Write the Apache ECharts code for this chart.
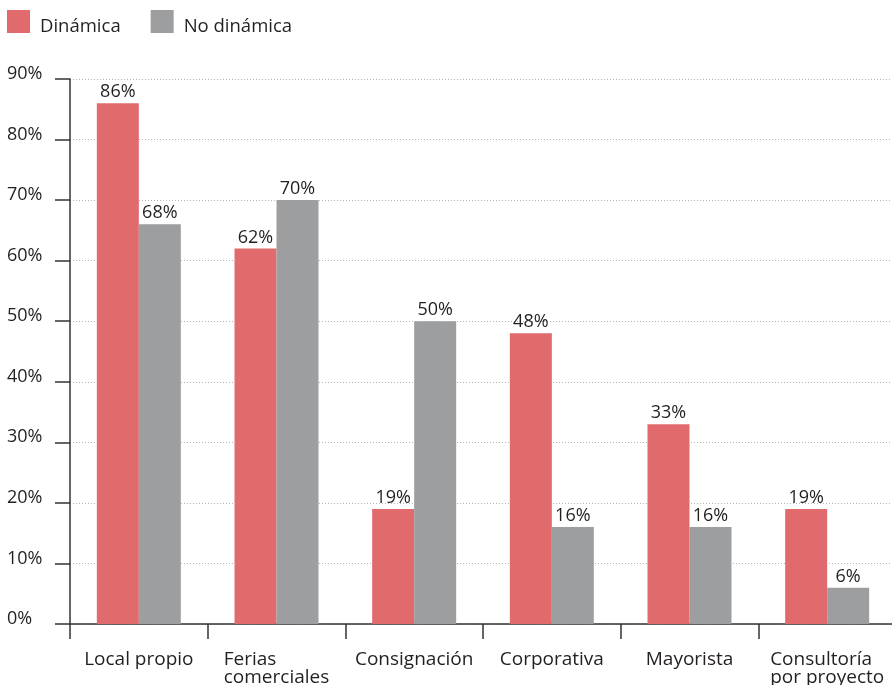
<!DOCTYPE html>
<html>
<head>
<meta charset="utf-8">
<script src="https://cdn.jsdelivr.net/npm/echarts@6/dist/echarts.min.js"></script>
<style>html,body{margin:0;padding:0;background:#fff;}#c{width:892px;height:685px;}</style>
</head>
<body>
<div id="c"></div>
<script>
var categories = ['Local propio', 'Ferias\ncomerciales', 'Consignación', 'Corporativa', 'Mayorista', 'Consultoría\npor proyecto'];
var seriesNames = ['Dinámica', 'No dinámica'];
var dinamica = [86, 62, 19, 48, 33, 19];
var noDinamica = [66, 70, 50, 16, 16, 6];
var dinamicaLabels = ['86%', '62%', '19%', '48%', '33%', '19%'];
var noDinamicaLabels = ['68%', '70%', '50%', '16%', '16%', '6%'];
var yTicks = [0, 10, 20, 30, 40, 50, 60, 70, 80, 90];

var FONT = 'Open Sans';
var TXT = '#231F20';
var chart = echarts.init(document.getElementById('c'), null, {renderer: 'canvas'});
chart.setOption({
  animation: false,
  textStyle: {fontFamily: FONT, color: TXT},
  legend: {
    left: 7, top: 10, padding: 0,
    itemWidth: 23, itemHeight: 23, itemGap: 30,
    icon: 'rect',
    formatter: '{t|{name}}',
    textStyle: {
      fontFamily: FONT, fontSize: 18.5, color: TXT,
      rich: {t: {fontFamily: FONT, fontSize: 18.5, color: TXT, padding: [11, 0, 0, 5]}}
    },
    data: seriesNames
  },
  grid: {left: 70, top: 79, width: 826, bottom: 61, containLabel: false, outerBoundsMode: 'none'},
  xAxis: {
    type: 'category',
    data: categories,
    axisLine: {show: true, lineStyle: {color: '#333', width: 1.5}},
    axisTick: {show: true, length: 15, alignWithLabel: false, lineStyle: {color: '#333', width: 1.5}},
    axisLabel: {
      interval: 0, margin: 27, fontFamily: FONT, fontSize: 19, color: TXT, lineHeight: 18,
      formatter: function (v) {
        return v.split('\n').map(function (s) { return '{a|' + s + '}'; }).join('\n');
      },
      rich: {a: {align: 'left', fontFamily: FONT, fontSize: 19, color: TXT, lineHeight: 18}}
    },
    splitLine: {show: false}
  },
  yAxis: {
    type: 'value', min: yTicks[0], max: yTicks[yTicks.length - 1], interval: 10,
    axisLine: {show: true, lineStyle: {color: '#333', width: 1.5}},
    axisTick: {show: true, length: 15, lineStyle: {color: '#333', width: 1.5}},
    axisLabel: {
      formatter: '{value}%', align: 'left', verticalAlign: 'bottom', margin: 63,
      fontFamily: FONT, fontSize: 18, color: TXT, lineHeight: 10
    },
    splitLine: {show: true, lineStyle: {color: '#b5b5b5', type: [1, 2], width: 1}}
  },
  series: [
    {
      name: seriesNames[0], type: 'bar', data: dinamica, barWidth: 42, barGap: '0%',
      itemStyle: {color: '#E06A6C'},
      label: {show: true, position: 'top', distance: 2, fontFamily: FONT, fontSize: 18, color: TXT,
        formatter: function (p) { return dinamicaLabels[p.dataIndex]; }}
    },
    {
      name: seriesNames[1], type: 'bar', data: noDinamica, barWidth: 42, barGap: '0%',
      itemStyle: {color: '#9D9EA0'},
      label: {show: true, position: 'top', distance: 2, fontFamily: FONT, fontSize: 18, color: TXT,
        formatter: function (p) { return noDinamicaLabels[p.dataIndex]; }}
    }
  ]
});
</script>
</body>
</html>
